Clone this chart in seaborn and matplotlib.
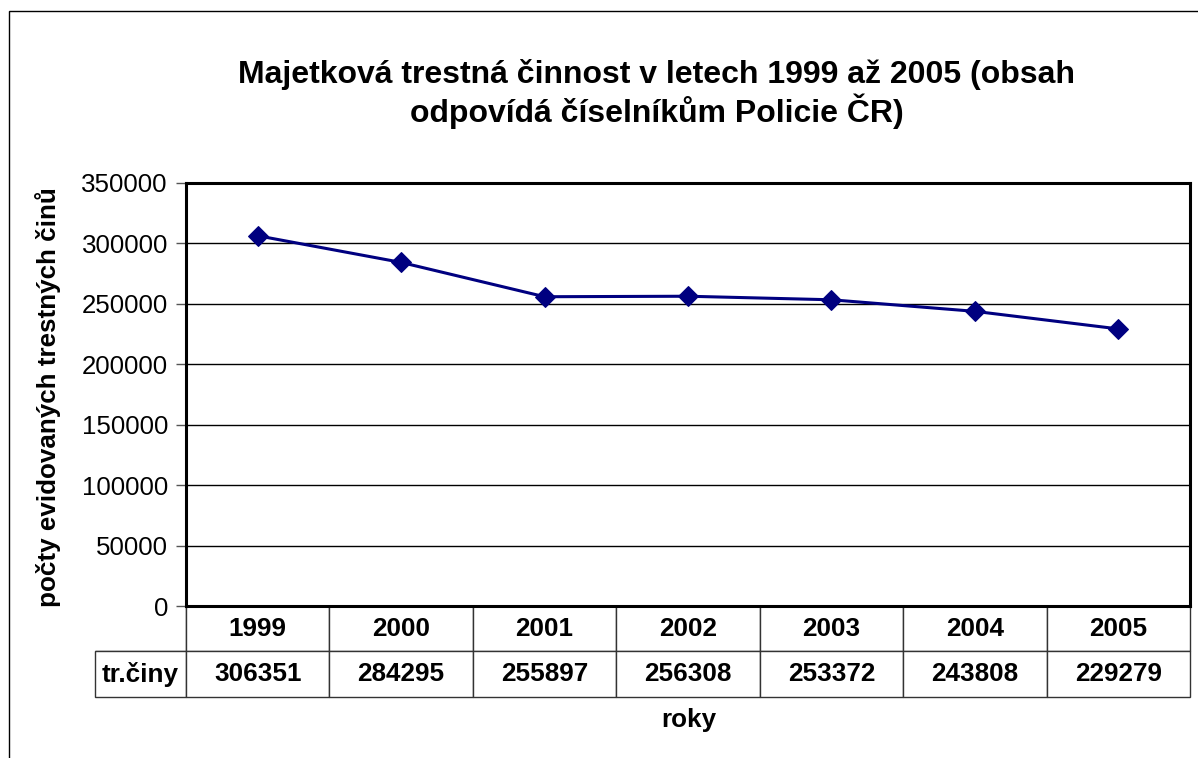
import pandas as pd
import numpy as np
import matplotlib
matplotlib.use('Agg')
import matplotlib.pyplot as plt
import seaborn as sns
from matplotlib.patches import Rectangle

# data
years = ['1999', '2000', '2001', '2002', '2003', '2004', '2005']
crimes = [306351, 284295, 255897, 256308, 253372, 243808, 229279]
row_label = 'tr.činy'
title = 'Majetková trestná činnost v letech 1999 až 2005 (obsah\nodpovídá číselníkům Policie ČR)'
y_label = 'počty evidovaných trestných činů'
x_label = 'roky'
y_ticks = [0, 50000, 100000, 150000, 200000, 250000, 300000, 350000]

df = pd.DataFrame({'pos': np.arange(len(years)), 'rok': years, 'tr': crimes})

sns.set_style('white')
plt.rcParams['font.family'] = ['Liberation Sans', 'DejaVu Sans']
plt.rcParams['text.color'] = 'black'
plt.rcParams['ytick.color'] = 'black'

fig = plt.figure(figsize=(11.98, 7.58), dpi=100)
ax = fig.add_axes([186/1198, 1 - 606/758, 1004/1198, 423/758])

# outer chart frame (cropped on right/bottom in original)
fig.patches.append(Rectangle((9/1198, -0.05), 1.2, 1 - 11/758 + 0.05, transform=fig.transFigure,
                             fill=False, edgecolor='black', linewidth=1.0))

sns.lineplot(data=df, x='pos', y='tr', ax=ax, color='#000080', linewidth=2.2,
             marker='D', markersize=10, markeredgecolor='#000080')

ax.set_xlim(-0.5, len(years) - 0.5)
ax.set_ylim(0, 350000)
ax.set_yticks(y_ticks)
ax.set_yticklabels([str(t) for t in y_ticks], fontsize=18.6, color='black')
ax.set_xticks([])
ax.set_xlabel('')
ax.set_ylabel('')
ax.tick_params(axis='y', direction='out', length=7, width=1, color='#555555', pad=6, left=True)
ax.grid(axis='y', color='black', linewidth=1)
for s in ax.spines.values():
    s.set_visible(True)
    s.set_color('black')
    s.set_linewidth(2.2)

# data table below the axes
cell_text = [[''] + years, [row_label] + [str(v) for v in crimes]]
lab_w = 91 / 1004
tbl = ax.table(cellText=cell_text, cellLoc='center',
               colWidths=[lab_w] + [1 / len(years)] * len(years),
               bbox=[-lab_w, -91/423, 1 + lab_w, 91/423])
tbl.auto_set_font_size(False)
for (r, c), cell in tbl.get_celld().items():
    cell.set_linewidth(1.0)
    cell.set_edgecolor('#333333')
    cell.get_text().set_fontsize(18.8)
    cell.get_text().set_fontweight('bold')
    cell.get_text().set_color('black')
tbl[0, 0].visible_edges = 'BR'

fig.text(657/1198, 1 - 94/758, title, ha='center', va='center',
         fontsize=23, fontweight='bold', linespacing=1.15)
fig.text(48/1198, 1 - 397/758, y_label, rotation=90, ha='center', va='center',
         fontsize=18.7, fontweight='bold')
fig.text(689/1198, 1 - 720/758, x_label, ha='center', va='center',
         fontsize=18.7, fontweight='bold')

plt.savefig('out.png', dpi=100)
